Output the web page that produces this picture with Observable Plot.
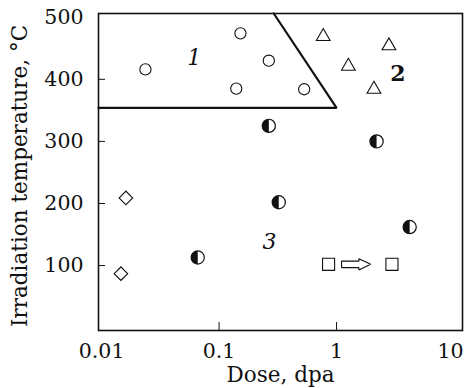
<!DOCTYPE html>
<html><head><meta charset="utf-8">
<script src="https://cdn.jsdelivr.net/npm/d3@7"></script>
<script src="https://cdn.jsdelivr.net/npm/@observablehq/plot@0.6"></script>
<style>
body{margin:0;background:#fff}
svg{font-family:"DejaVu Serif",serif}
</style>
</head><body><div id="chart"></div>
<script>
// Data
const circleDose = [0.0236, 0.152, 0.265, 0.14, 0.53];
const circleTemp = [416, 474, 430, 385, 384];
const triangleDose = [0.77, 2.79, 1.26, 2.08];
const triangleTemp = [469, 454, 421, 384];
const halfDose = [0.265, 2.19, 0.322, 4.19, 0.0658];
const halfTemp = [325, 300, 202, 162, 113];
const diamondDose = [0.0161, 0.0146];
const diamondTemp = [209, 87];
const squareDose = [0.855, 2.96];
const squareTemp = [102, 102];
const arrowDose = [1.103, 1.549, 1.549, 1.95, 1.549, 1.549, 1.103, 1.103];
const arrowTemp = [107.2, 107.2, 111.1, 102, 92.7, 96.6, 96.6, 107.2];
const boundaryDose = [0.00941, 1.0, 0.292];
const boundaryTemp = [354, 354, 506];
const labelText = ["1", "2", "3"];
const labelDose = [0.0615, 3.33, 0.268];
const labelTemp = [435, 408.5, 138.6];
const labelStyle = ["italic", "bold", "italic"];
const xTicks = [0.01, 0.1, 1, 10];
const xTickLabels = ["0.01", "0.1", "1", "10"];
const xInnerTicks = [0.1, 1];
const yTicks = [100, 200, 300, 400, 500];
const yInnerTicks = [100, 200, 300, 400];
const xTitle = "Dose, dpa";
const yTitle = "Irradiation temperature, °C";

const pts = (xs, ys) => xs.map((x, i) => ({x, y: ys[i]}));
const labels = labelText.map((t, i) => ({t, x: labelDose[i], y: labelTemp[i], s: labelStyle[i]}));
const fmtX = d => xTickLabels[xTicks.indexOf(d)];

const halfLeft = {
  draw(ctx, size) {
    const r = Math.sqrt(size / Math.PI);
    ctx.moveTo(0, -r);
    ctx.arc(0, 0, r, -Math.PI / 2, Math.PI / 2, true);
    ctx.closePath();
  }
};

const chart = Plot.plot({
  width: 465,
  height: 388,
  marginLeft: 98,
  marginRight: 3,
  marginTop: 13,
  marginBottom: 58,
  style: {fontFamily: "DejaVu Serif", background: "#fff"},
  x: {type: "log", domain: [0.00941, 11.8]},
  y: {domain: [-4.6, 506]},
  marks: [
    Plot.line(pts(boundaryDose, boundaryTemp), {x: "x", y: "y", stroke: "#111", strokeWidth: 2.2, strokeLinejoin: "miter"}),
    Plot.dot(pts(circleDose, circleTemp), {x: "x", y: "y", r: 5.6, stroke: "#111", fill: "white", strokeWidth: 1.1}),
    Plot.dot(pts(triangleDose, triangleTemp), {x: "x", y: "y", symbol: "triangle", r: 5.1, stroke: "#111", fill: "white", strokeWidth: 1.1}),
    Plot.dot(pts(diamondDose, diamondTemp), {x: "x", y: "y", symbol: "square", rotate: 45, r: 5.4, stroke: "#111", fill: "white", strokeWidth: 1.1}),
    Plot.dot(pts(squareDose, squareTemp), {x: "x", y: "y", symbol: "square", r: 6.8, stroke: "#111", fill: "white", strokeWidth: 1.1}),
    Plot.dot(pts(halfDose, halfTemp), {x: "x", y: "y", r: 6.6, stroke: "#111", fill: "white", strokeWidth: 1.2}),
    Plot.dot(pts(halfDose, halfTemp), {x: "x", y: "y", r: 6.6, symbol: halfLeft, fill: "#111", stroke: "none"}),
    Plot.line(pts(arrowDose, arrowTemp), {x: "x", y: "y", stroke: "#111", fill: "white", strokeWidth: 1.1, strokeLinejoin: "miter"}),
    Plot.text(labels.filter(d => d.s === "italic"), {x: "x", y: "y", text: "t", fontSize: 22, fontStyle: "italic", fill: "#111"}),
    Plot.text(labels.filter(d => d.s === "bold"), {x: "x", y: "y", text: "t", fontSize: 22, fontWeight: "bold", fill: "#111"}),
    Plot.axisX(xInnerTicks, {tickSize: 8, dy: -8, text: null, label: null, stroke: "#111"}),
    Plot.axisY(yInnerTicks, {tickSize: 7, dx: 7, text: null, label: null, stroke: "#111"}),
    Plot.axisX(xTicks.filter(d => d < 10), {tickSize: 0, tickPadding: 13, fontSize: 20.5, tickFormat: fmtX, label: null, fill: "#111", style: {letterSpacing: "0.6px"}}),
    Plot.axisX(xTicks.filter(d => d >= 10), {tickSize: 0, tickPadding: 13, dx: -3.5, fontSize: 20.5, tickFormat: fmtX, label: null, fill: "#111", style: {letterSpacing: "0.6px"}}),
    Plot.axisY(yTicks, {tickSize: 0, tickPadding: 15, fontSize: 20.5, label: null, fill: "#111"}),
    Plot.text([xTitle], {frameAnchor: "bottom", dy: 51, fontSize: 21.5, fill: "#111"}),
    Plot.text([yTitle], {frameAnchor: "left", textAnchor: "middle", rotate: -90, dx: -78, dy: 4, fontSize: 21.5, fill: "#111", style: {letterSpacing: "0.55px"}}),
    Plot.frame({stroke: "#111", strokeWidth: 1.6})
  ]
});
document.getElementById("chart").appendChild(chart);
</script>
</body></html>
